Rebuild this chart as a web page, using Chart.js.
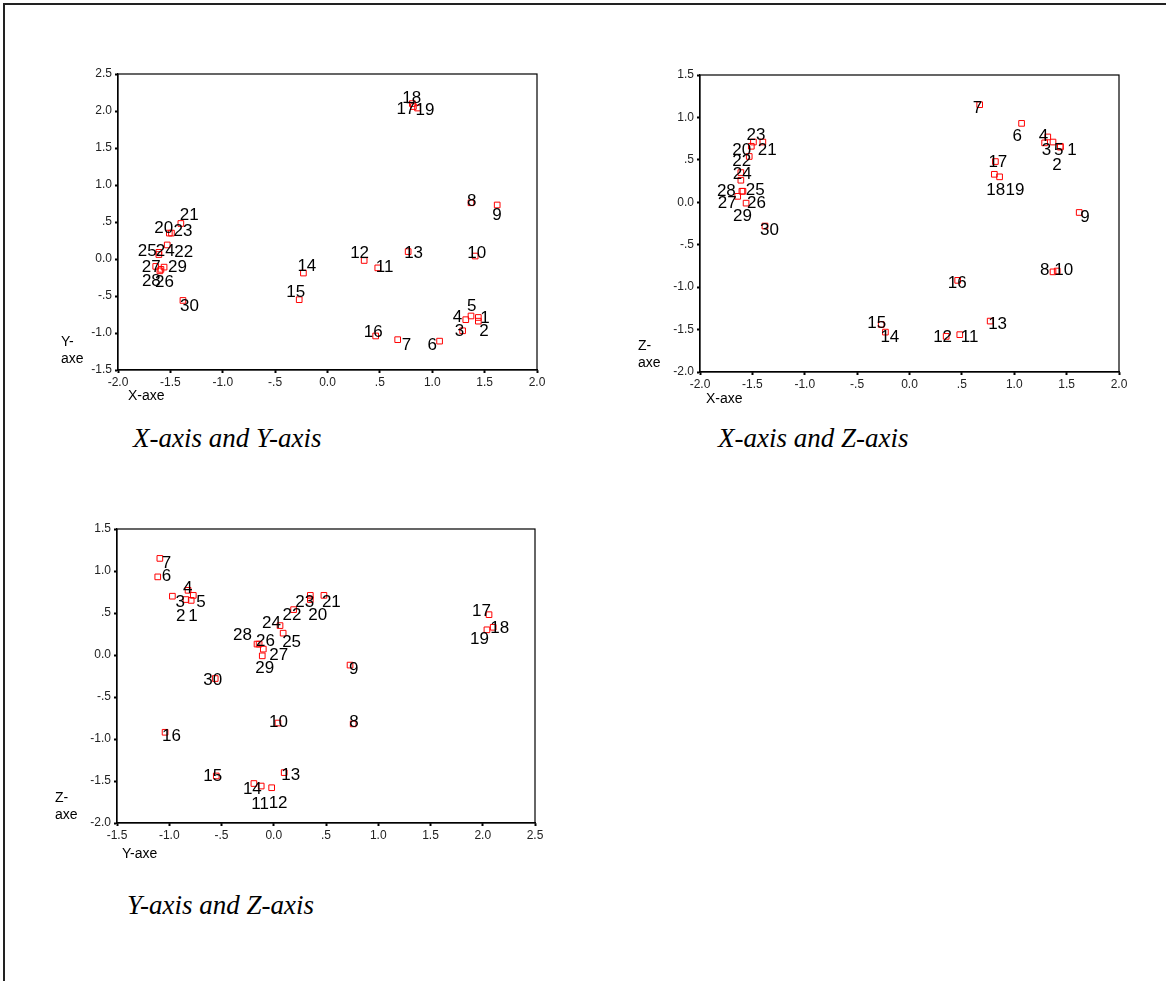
<!DOCTYPE html>
<html>
<head>
<meta charset="utf-8">
<script src="https://cdn.jsdelivr.net/npm/chart.js@4.4.1/dist/chart.umd.min.js"></script>
<style>
  body { margin: 0; background: #fff; width: 1166px; height: 981px; position: relative; overflow: hidden; }
  .frame { position: absolute; left: 3px; top: 3px; width: 1200px; height: 1000px; border-top: 2px solid #222; border-left: 2px solid #222; }
  canvas { position: absolute; }
  .axt { position: absolute; font: 14px "Liberation Sans", Arial, sans-serif; color: #000; line-height: 16.5px; }
  .cap { position: absolute; font: italic 27px "Liberation Serif", "Times New Roman", serif; line-height: 27px; color: #000; white-space: nowrap; }
</style>
</head>
<body>
<div class="frame"></div>

<canvas id="xy"></canvas>
<canvas id="xz"></canvas>
<canvas id="yz"></canvas>

<div class="axt" style="left:61px;top:333px">Y-<br>axe</div>
<div class="axt" style="left:128px;top:387px">X-axe</div>
<div class="axt" style="left:638px;top:337px">Z-<br>axe</div>
<div class="axt" style="left:706px;top:390px">X-axe</div>
<div class="axt" style="left:55px;top:789px">Z-<br>axe</div>
<div class="axt" style="left:122px;top:845px">Y-axe</div>

<div class="cap" style="left:133px;top:425px">X-axis and Y-axis</div>
<div class="cap" style="left:718px;top:425px">X-axis and Z-axis</div>
<div class="cap" style="left:127px;top:892px">Y-axis and Z-axis</div>

<script>
// case numbers and coordinates on the three axes
const caseIds = ['1','2','3','4','5','6','7','8','9','10','11','12','13','14','15',
                 '16','17','18','19','20','21','22','23','24','25','26','27','28','29','30'];
const xAxe = [1.44, 1.44, 1.29, 1.32, 1.37, 1.07, 0.67, 1.37, 1.62, 1.41, 0.48, 0.35, 0.77, -0.23, -0.27,
              0.46, 0.82, 0.81, 0.86, -1.51, -1.40, -1.53, -1.49, -1.61, -1.61, -1.59, -1.64, -1.60, -1.56, -1.38];
const yAxe = [-0.79, -0.84, -0.97, -0.82, -0.77, -1.11, -1.09, 0.76, 0.73, 0.04, -0.12, -0.02, 0.10, -0.19, -0.55,
              -1.04, 2.06, 2.10, 2.04, 0.35, 0.48, 0.19, 0.35, 0.06, 0.09, -0.14, -0.10, -0.16, -0.11, -0.56];
const zAxe = [0.65, 0.66, 0.70, 0.77, 0.71, 0.93, 1.15, -0.82, -0.12, -0.81, -1.56, -1.58, -1.40, -1.53, -1.44,
              -0.92, 0.48, 0.33, 0.30, 0.66, 0.71, 0.54, 0.71, 0.35, 0.26, 0.13, 0.07, 0.13, -0.01, -0.28];

// label placement (pixel offset from the marker) per plot
const offXY = [[2,1],[1,10],[-8,1],[-13,-2],[-4,-10],[-12,4],[4,6],[-4,-1],[-5,10],[-8,-3],
               [-2,-1],[-14,-7],[-4,2],[-6,-7],[-13,-7],[-12,-4],[-17,3],[-10,-5],[-2,2],[-15,-5],
               [-1,-8],[7,7],[2,-2],[-3,-3],[-21,-1],[-6,13],[-14,1],[-18,10],[4,0],[-3,6]];
const offXZ = [[7,3],[-8,19],[-3,7],[-9,-1],[1,8],[-9,13],[-7,4],[-13,-2],[1,5],[-3,-1],
               [1,3],[-13,1],[-2,3],[-5,5],[-14,-1],[-10,3],[-7,1],[-8,16],[6,13],[-19,4],
               [-5,8],[-17,5],[-7,-7],[-8,2],[5,10],[4,12],[-20,7],[-25,0],[-13,13],[-5,4]];
const offYZ = [[-3,16],[-10,17],[3,6],[-5,-2],[3,7],[4,-1],[2,5],[-4,-2],[-1,4],[-9,-1],
               [-10,18],[-3,16],[-3,3],[-11,6],[-13,0],[-3,4],[-17,-3],[-3,1],[-17,10],[-2,16],
               [-2,7],[-11,6],[-15,7],[-18,-2],[-1,9],[-3,-3],[6,6],[-24,-9],[-7,12],[-12,2]];

const FONT = '"Liberation Sans", Arial, sans-serif';

const fmt = v => {
  if (Math.abs(v) < 1e-9) return '0.0';
  return Number(v).toFixed(1).replace(/^(-?)0\./, '$1.');
};

const boxPlugin = {
  id: 'box',
  beforeDatasetsDraw(chart) {
    const { ctx, chartArea: a } = chart;
    ctx.save();
    ctx.strokeStyle = '#000';
    ctx.lineWidth = 1.2;
    ctx.strokeRect(a.left, a.top, a.right - a.left, a.bottom - a.top);
    ctx.restore();
  }
};

const labelPlugin = {
  id: 'ptLabels',
  afterDatasetsDraw(chart, args, opts) {
    const { ctx } = chart;
    const meta = chart.getDatasetMeta(0);
    ctx.save();
    ctx.font = '17px ' + FONT;
    ctx.fillStyle = '#000';
    ctx.textAlign = 'left';
    ctx.textBaseline = 'middle';
    meta.data.forEach((pt, i) => {
      const o = opts.offsets[i];
      ctx.fillText(caseIds[i], pt.x + o[0], pt.y + o[1]);
    });
    ctx.restore();
  }
};

function axisOpts(min, max, isY) {
  return {
    type: 'linear',
    min: min, max: max,
    afterFit: s => { if (isY) s.width = 50; else s.height = 24; },
    ticks: {
      stepSize: 0.5, autoSkip: false, maxRotation: 0,
      padding: isY ? 3 : 2,
      color: '#222',
      font: { family: FONT, size: 12 },
      callback: fmt
    },
    grid: { display: true, drawOnChartArea: false, drawTicks: true, tickLength: 3, tickWidth: 2, tickColor: '#000' },
    border: { display: true, color: '#000', width: 1.2 }
  };
}

function scatter(id, area, xs, ys, xr, yr, offsets) {
  const cv = document.getElementById(id);
  const padL = 50, padT = 12, padR = 14, padB = 24;
  cv.width = area.right - area.left + padL + padR;
  cv.height = area.bottom - area.top + padT + padB;
  cv.style.left = (area.left - padL) + 'px';
  cv.style.top = (area.top - padT) + 'px';
  new Chart(cv, {
    type: 'scatter',
    data: {
      datasets: [{
        data: xs.map((x, i) => ({ x: x, y: ys[i] })),
        pointStyle: 'rect',
        pointRadius: 4,
        backgroundColor: 'rgba(0,0,0,0)',
        borderColor: '#ff0000',
        borderWidth: 1
      }]
    },
    options: {
      responsive: false,
      animation: false,
      devicePixelRatio: 1,
      layout: { padding: { top: padT, right: padR, left: 0, bottom: 0 } },
      plugins: { legend: { display: false }, tooltip: { enabled: false }, ptLabels: { offsets: offsets } },
      scales: { x: axisOpts(xr[0], xr[1], false), y: axisOpts(yr[0], yr[1], true) }
    },
    plugins: [boxPlugin, labelPlugin]
  });
}

scatter('xy', { left: 118, right: 537, top: 74, bottom: 370 }, xAxe, yAxe, [-2, 2], [-1.5, 2.5], offXY);
scatter('xz', { left: 700, right: 1119, top: 75, bottom: 372 }, xAxe, zAxe, [-2, 2], [-2, 1.5], offXZ);
scatter('yz', { left: 117, right: 535, top: 529, bottom: 823 }, yAxe, zAxe, [-1.5, 2.5], [-2, 1.5], offYZ);
</script>
</body>
</html>
